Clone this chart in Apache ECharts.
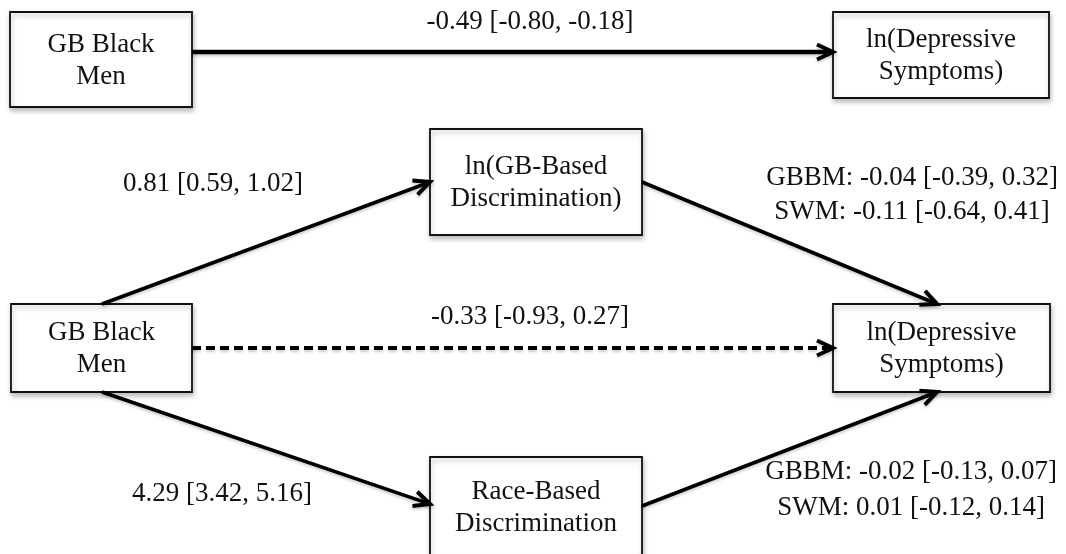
<!DOCTYPE html>
<html>
<head>
<meta charset="utf-8">
<script src="https://cdn.jsdelivr.net/npm/echarts@6/dist/echarts.min.js"></script>
<style>
  html, body { margin: 0; padding: 0; background: #fff; }
  #chart { width: 1066px; height: 554px; }
</style>
</head>
<body>
<div id="chart"></div>
<script>
// Text shown inside each box of the mediation diagram
const nodeLabels = [
  ['GB Black', 'Men'],
  ['ln(Depressive', 'Symptoms)'],
  ['GB Black', 'Men'],
  ['ln(GB-Based', 'Discrimination)'],
  ['Race-Based', 'Discrimination'],
  ['ln(Depressive', 'Symptoms)']
];

// Path estimates with 95% intervals
const totalEffect = '-0.49 [-0.80, -0.18]';
const pathA1 = '0.81 [0.59, 1.02]';
const directEffect = '-0.33 [-0.93, 0.27]';
const pathA2 = '4.29 [3.42, 5.16]';
const pathB1 = ['GBBM: -0.04 [-0.39, 0.32]', 'SWM: -0.11 [-0.64, 0.41]'];
const pathB2 = ['GBBM: -0.02 [-0.13, 0.07]', 'SWM: 0.01 [-0.12, 0.14]'];

// Layout: box rectangles [x0, y0, x1, y1] in the diagram's coordinate space
const boxLayout = [
  [10, 12, 192, 107],
  [833, 12, 1049, 98],
  [11, 304, 192, 392],
  [430, 129, 642, 235],
  [430, 457, 642, 556],
  [833, 304, 1050, 392]
];

// Layout: arrows [x1, y1, x2, y2, lineWidth, dashed]
const arrowLayout = [
  [192, 52, 833, 52, 4.5, false],
  [102, 304, 430, 182, 3.6, false],
  [192, 348, 833, 348, 4, true],
  [102, 392, 430, 504, 3.6, false],
  [642, 182, 937, 304, 3.6, false],
  [642, 506, 937, 392, 3.6, false]
];

// Layout: label anchors [text, x, y]
const labelLayout = [
  [totalEffect, 530, 22],
  [pathA1, 213, 184],
  [directEffect, 530, 317],
  [pathA2, 222, 494],
  [pathB1[0], 912, 178],
  [pathB1[1], 912, 212],
  [pathB2[0], 911, 472],
  [pathB2[1], 911, 508]
];

const FONT = '27px "Liberation Serif", "Times New Roman", serif';
const INK = '#111';

const chart = echarts.init(document.getElementById('chart'), null, { renderer: 'canvas' });

function boxItem(params, api) {
  const i = params.dataIndex;
  const b = boxLayout[i];
  const p0 = api.coord([b[0], b[1]]);
  const p1 = api.coord([b[2], b[3]]);
  const cx = (p0[0] + p1[0]) / 2;
  const cy = (p0[1] + p1[1]) / 2 + 1;
  const lines = nodeLabels[i];
  const gap = 32;
  const children = [{
    type: 'rect',
    shape: { x: p0[0], y: p0[1], width: p1[0] - p0[0], height: p1[1] - p0[1] },
    style: {
      fill: '#fff', stroke: '#111', lineWidth: 1.8,
      shadowBlur: 5, shadowColor: 'rgba(0,0,0,0.25)', shadowOffsetX: 1, shadowOffsetY: 3
    }
  }];
  lines.forEach(function (t, k) {
    children.push({
      type: 'text',
      style: {
        text: t, x: cx, y: cy + (k - (lines.length - 1) / 2) * gap,
        align: 'center', verticalAlign: 'middle', font: FONT, fill: INK
      }
    });
  });
  return { type: 'group', children: children };
}

function arrowItem(params, api) {
  const a = arrowLayout[params.dataIndex];
  const s = api.coord([a[0], a[1]]);
  const e = api.coord([a[2], a[3]]);
  const ang = Math.atan2(e[1] - s[1], e[0] - s[0]);
  const back = 16, half = 7.5;
  const ux = Math.cos(ang), uy = Math.sin(ang);
  const wing1 = [e[0] - ux * back - uy * half, e[1] - uy * back + ux * half];
  const wing2 = [e[0] - ux * back + uy * half, e[1] - uy * back - ux * half];
  const shadow = { shadowBlur: 3, shadowColor: 'rgba(0,0,0,0.2)', shadowOffsetY: 2 };
  return {
    type: 'group',
    children: [{
      type: 'line',
      shape: { x1: s[0], y1: s[1], x2: e[0] - ux * 2, y2: e[1] - uy * 2 },
      style: Object.assign({
        stroke: '#000', lineWidth: a[4], lineDash: a[5] ? [9, 5] : null
      }, shadow)
    }, {
      type: 'polyline',
      shape: { points: [wing1, e, wing2] },
      style: Object.assign({
        stroke: '#000', lineWidth: 4, fill: null, lineJoin: 'miter'
      }, shadow)
    }]
  };
}

function labelItem(params, api) {
  const l = labelLayout[params.dataIndex];
  const p = api.coord([l[1], l[2]]);
  return {
    type: 'text',
    style: {
      text: l[0], x: p[0], y: p[1],
      align: 'center', verticalAlign: 'middle', font: FONT, fill: INK
    }
  };
}

chart.setOption({
  backgroundColor: '#fff',
  animation: false,
  grid: { left: 0, right: 0, top: 0, bottom: 0 },
  xAxis: { type: 'value', min: 0, max: 1066, show: false },
  yAxis: { type: 'value', min: 0, max: 554, inverse: true, show: false },
  series: [
    {
      type: 'custom', renderItem: boxItem, clip: false, z: 1,
      data: boxLayout.map(function (b, i) { return [b[0], b[1], i]; })
    },
    {
      type: 'custom', renderItem: arrowItem, clip: false, z: 2,
      data: arrowLayout.map(function (a, i) { return [a[0], a[1], i]; })
    },
    {
      type: 'custom', renderItem: labelItem, clip: false, z: 3,
      data: labelLayout.map(function (l, i) { return [l[1], l[2], i]; })
    }
  ]
});
</script>
</body>
</html>
